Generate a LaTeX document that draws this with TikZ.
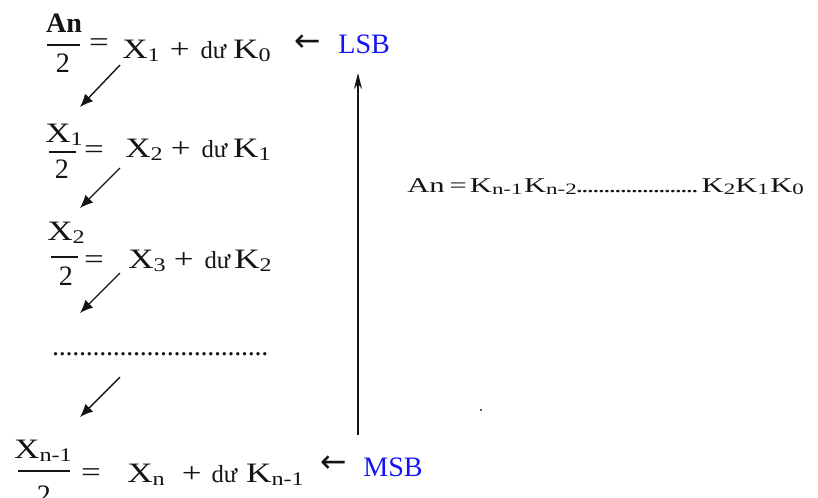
\documentclass[tikz,border=0pt]{standalone}
\usepackage{fontspec}
\setmainfont{Liberation Serif}
\newfontfamily\wideserif{Liberation Serif}[FakeStretch=1.25]
\newfontfamily\keyserif{Liberation Serif}[FakeStretch=1.45]
\newfontfamily\arrowsans{DejaVu Sans}
\usetikzlibrary{arrows.meta,positioning,calc}
\definecolor{ink}{RGB}{20,20,20}
\definecolor{bitblue}{RGB}{20,20,245}
\definecolor{speckgray}{RGB}{90,90,90}
\newcommand{\sbs}[1]{\raisebox{-0.25ex}{\fontsize{11}{11}\selectfont #1}}
\newcommand{\ksb}[1]{\raisebox{-0.3ex}{\fontsize{9}{9}\selectfont #1}}
\newcommand{\rem}{{\rmfamily\fontsize{14}{14}\selectfont dư}}
\newcommand{\dotrun}[2]{\hbox to #1{\leaders\hbox to #2{\hss.\hss}\hfill}}
\tikzset{
  term/.style={anchor=base west,inner sep=0pt,text=ink,font=\wideserif\fontsize{16}{19}\selectfont},
  numer/.style={anchor=base,inner sep=0pt,text=ink,font=\wideserif\fontsize{16}{19}\selectfont},
  denom/.style={anchor=base,inner sep=0pt,text=ink,font=\fontsize{16}{19}\selectfont},
  eqsign/.style={inner sep=0pt,text=ink,font=\wideserif\fontsize{16}{19}\selectfont},
  bar/.style={draw=ink,line width=0.8pt},
  pointer/.style={anchor=west,inner sep=0pt,text=ink,font=\arrowsans\fontsize{18}{18}\selectfont},
  bittag/.style={anchor=west,inner sep=0pt,text=bitblue,font=\fontsize{16}{19}\selectfont},
  downstep/.style={-{Latex[length=2.6mm,width=2.2mm]},line width=0.8pt,draw=ink},
  climb/.style={-{Stealth[length=3.2mm,width=1.6mm]},line width=0.8pt,draw=ink},
  keyline/.style={anchor=base west,inner sep=0pt,text=ink,font=\keyserif\fontsize{12}{14}\selectfont}
}
\begin{document}
\begin{tikzpicture}[x=0.02cm,y=-0.02cm]
  \useasboundingbox (0,0) rectangle (818,497);

  % first division, least significant bit
  \node[numer] (an) at (64,32) {\rmfamily\bfseries An};
  \draw[bar] (47,45) -- (80,45);
  \node[denom] (d1) at (63,72) {2};
  \node[eqsign] (eq1) at (99,45) {=};
  \node[term] (r1) at (122,58) {X\sbs{1}\hspace{0.2cm}+\hspace{0.22cm}\rem\hspace{0.14cm}K\sbs{0}};
  \node[pointer] (p1) at (294,43) {←};
  \node[bittag] (lsb) at (338,44) {LSB};

  % second division
  \node[numer] (x1) at (64,142) {X\sbs{1}};
  \draw[bar] (49,152) -- (76,152);
  \node[denom] (d2) at (62,178) {2};
  \node[eqsign] (eq2) at (94,152) {=};
  \node[term] (r2) at (125,157) {X\sbs{2}\hspace{0.16cm}+\hspace{0.22cm}\rem\hspace{0.12cm}K\sbs{1}};

  % third division
  \node[numer] (x2) at (66,240) {X\sbs{2}};
  \draw[bar] (51,257) -- (78,257);
  \node[denom] (d3) at (66,285) {2};
  \node[eqsign] (eq3) at (94,262) {=};
  \node[term] (r3) at (128,268) {X\sbs{3}\hspace{0.16cm}+\hspace{0.22cm}\rem\hspace{0.08cm}K\sbs{2}};

  \node[term,font=\fontsize{16}{19}\selectfont] (gap) at (52,355) {\dotrun{4.32cm}{0.135cm}};

  % last division, most significant bit
  \node[numer] (xn1) at (43,458) {X\sbs{n-1}};
  \draw[bar] (18,471) -- (70,471);
  \node[denom] (d5) at (44,504) {2};
  \node[eqsign] (eq5) at (91,475) {=};
  \node[term] (r5) at (127,482) {X\sbs{n}\hspace{0.34cm}+\hspace{0.2cm}\rem\hspace{0.18cm}K\sbs{n-1}};
  \node[pointer] (p5) at (320,464) {←};
  \node[bittag] (msb) at (363,467) {MSB};

  % steps down the chain
  \coordinate (s1) at (120,65);  \coordinate (e1) at (80,107);
  \coordinate (s2) at (120,168); \coordinate (e2) at (80,208);
  \coordinate (s3) at (120,273); \coordinate (e3) at (80,313);
  \coordinate (s4) at (120,377); \coordinate (e4) at (80,417);
  \draw[downstep] (s1) -- (e1);
  \draw[downstep] (s2) -- (e2);
  \draw[downstep] (s3) -- (e3);
  \draw[downstep] (s4) -- (e4);

  % read back from MSB to LSB
  \coordinate (msbfoot) at (358,435);
  \coordinate (lsbhead) at (358,73);
  \draw[climb] (msbfoot) -- (lsbhead);

  \node[keyline] (code) at (407,192) {An\hspace{0.1cm}=\hspace{0.06cm}K\ksb{n-1}\hspace{0.03cm}K\ksb{n-2}\dotrun{2.5cm}{0.11cm}K\ksb{2}K\ksb{1}\hspace{0.03cm}K\ksb{0}};

  \node[fill=speckgray,inner sep=0pt,minimum size=0.04cm] (speck) at (481,410) {};
\end{tikzpicture}
\end{document}
